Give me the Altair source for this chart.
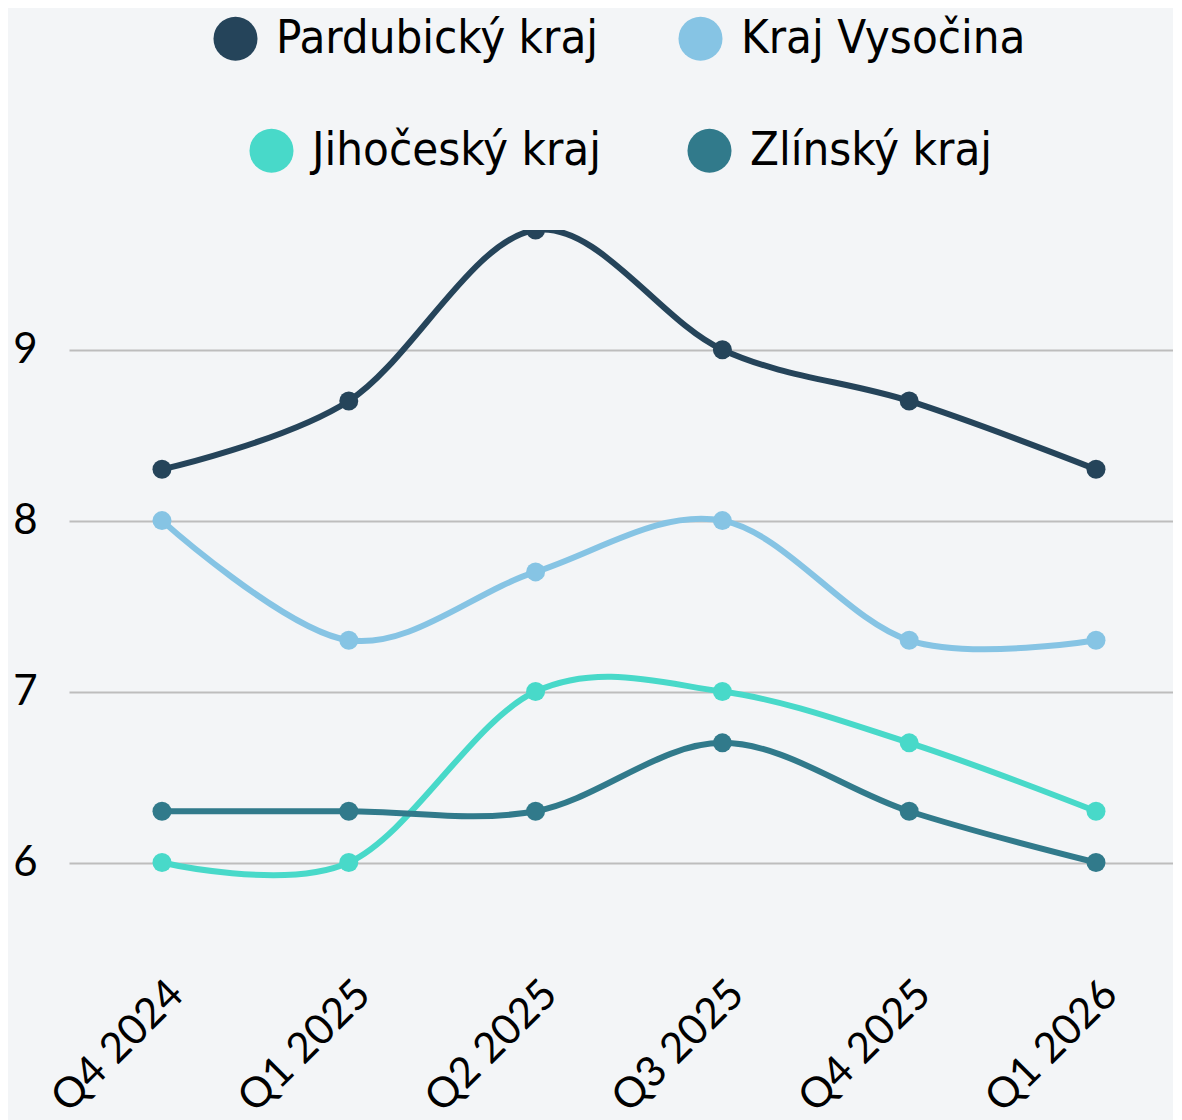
import altair as alt
import pandas as pd

quarters = ["Q4 2024", "Q1 2025", "Q2 2025", "Q3 2025", "Q4 2025", "Q1 2026"]
series_names = ["Pardubický kraj", "Kraj Vysočina", "Jihočeský kraj", "Zlínský kraj"]
colors = ["#25445a", "#86c4e4", "#48d9c9", "#317a8b"]

pardubicky = [8.3, 8.7, 9.7, 9.0, 8.7, 8.3]
vysocina = [8.0, 7.3, 7.7, 8.0, 7.3, 7.3]
jihocesky = [6.0, 6.0, 7.0, 7.0, 6.7, 6.3]
zlinsky = [6.3, 6.3, 6.3, 6.7, 6.3, 6.0]

values = [pardubicky, vysocina, jihocesky, zlinsky]
rows = []
for name, vals in zip(series_names, values):
    for q, v in zip(quarters, vals):
        rows.append({"quarter": q, "series": name, "value": v})
df = pd.DataFrame(rows)

group_a = series_names[:2]
group_b = series_names[2:]
colors_a = colors[:2]
colors_b = colors[2:]

BG = "#f3f5f7"
LABEL_FONT = "Liberation Sans Narrow, DejaVu Sans Condensed, Roboto Condensed, sans-serif"
AXIS_FONT = "Lato, sans-serif"

x_enc = alt.X(
    "quarter:N",
    sort=quarters,
    scale=alt.Scale(type="point", padding=0.455, align=0.547),
    axis=alt.Axis(
        title=None, labelAngle=-45, labelFont=AXIS_FONT, labelFontSize=42,
        labelColor="#000000", domain=False, ticks=False, grid=False,
        labelPadding=25, labelFontWeight="normal",
    ),
)
y_enc = alt.Y(
    "value:Q",
    scale=alt.Scale(domain=[5.5, 9.7], nice=False, zero=False),
    axis=alt.Axis(
        title=None, values=[6, 7, 8, 9], labelFont=AXIS_FONT, labelFontSize=42,
        labelColor="#000000", domain=False, ticks=False, grid=True,
        gridColor="#bdbdbd", gridWidth=2, labelPadding=32,
    ),
)

lines = alt.Chart(df).mark_line(
    interpolate="cardinal", strokeWidth=6, clip=True
).encode(
    x=x_enc,
    y=y_enc,
    stroke=alt.Stroke("series:N", scale=alt.Scale(domain=series_names, range=colors), legend=None),
    detail="series:N",
)

legend_common = dict(
    title=None, orient="none", direction="horizontal",
    symbolType="circle", symbolSize=1936, symbolStrokeWidth=0,
    labelFont=LABEL_FONT, labelFontSize=47, labelColor="#000000",
    labelOffset=17, padding=0, labelLimit=600,
)

points_a = alt.Chart(df).transform_filter(
    alt.FieldOneOfPredicate(field="series", oneOf=group_a)
).mark_point(filled=True, size=361, opacity=1, clip=True).encode(
    x=x_enc,
    y=y_enc,
    fill=alt.Fill(
        "series:N",
        scale=alt.Scale(domain=group_a, range=colors_a),
        legend=alt.Legend(legendX=143, legendY=-215, columnPadding=78, **legend_common),
    ),
)

points_b = alt.Chart(df).transform_calculate(series2="datum.series").transform_filter(
    alt.FieldOneOfPredicate(field="series", oneOf=group_b)
).mark_point(filled=True, size=361, opacity=1, clip=True).encode(
    x=x_enc,
    y=y_enc,
    color=alt.Color(
        "series2:N",
        scale=alt.Scale(domain=group_b, range=colors_b),
        legend=alt.Legend(legendX=179, legendY=-103, columnPadding=85, **legend_common),
    ),
)

chart = alt.layer(lines, points_a, points_b).resolve_scale(
    color="independent", fill="independent", stroke="independent"
).properties(
    width=1104, height=718, background=BG,
    padding={"top": 7, "left": 4, "right": 0, "bottom": 0},
).configure_view(stroke=None)

chart.save("out.html", embed_options={"renderer": "svg", "actions": False})
